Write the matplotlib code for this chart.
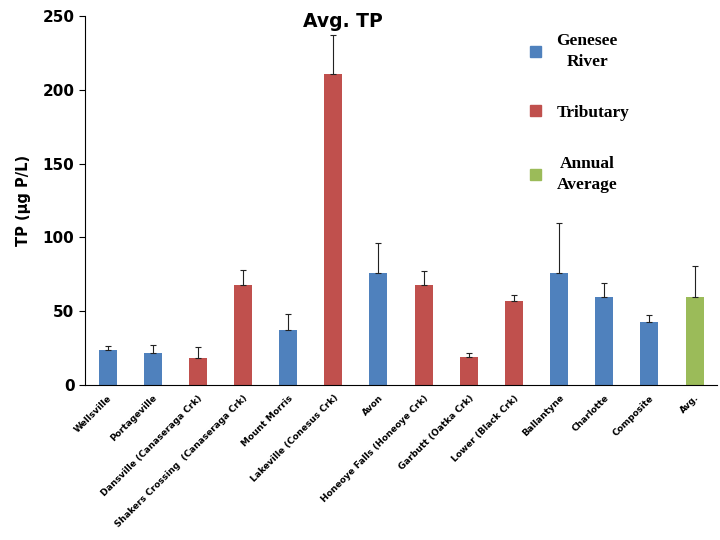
import matplotlib
matplotlib.use('Agg')
import matplotlib.pyplot as plt
import matplotlib.patches as mpatches

sites = ['Wellsville', 'Portageville', 'Dansville (Canaseraga Crk)',
         'Shakers Crossing  (Canaseraga Crk)', 'Mount Morris',
         'Lakeville (Conesus Crk)', 'Avon', 'Honeoye Falls (Honeoye Crk)',
         'Garbutt (Oatka Crk)', 'Lower (Black Crk)', 'Ballantyne',
         'Charlotte', 'Composite', 'Avg.']
tp_mean = [24, 22, 18, 68, 37, 211, 76, 68, 19, 57, 76, 60, 43, 60]
tp_err = [2.5, 5, 8, 10, 11, 26, 20, 9, 3, 4, 34, 9, 4.5, 21]
site_type = ['river', 'river', 'trib', 'trib', 'river', 'trib', 'river',
             'trib', 'trib', 'trib', 'river', 'river', 'river', 'avg']

COLORS = {'river': '#4F81BD', 'trib': '#C0504D', 'avg': '#9BBB59'}
LABELS = {'river': 'Genesee\nRiver', 'trib': 'Tributary',
          'avg': 'Annual\nAverage'}

fig = plt.figure(figsize=(7.2, 5.4), dpi=100)
ax = fig.add_axes([0.118, 0.287, 0.878, 0.683])

x = range(len(sites))
ax.bar(x, tp_mean, width=0.4, color=[COLORS[t] for t in site_type],
       yerr=[[0] * len(tp_err), tp_err], capsize=2.5,
       error_kw={'elinewidth': 0.8, 'capthick': 0.8, 'ecolor': '#222222'})

ax.set_xlim(-0.5, len(sites) - 0.5)
ax.set_ylim(0, 250)
ax.set_yticks([0, 50, 100, 150, 200, 250])
for lab in ax.get_yticklabels():
    lab.set_fontweight('bold')
    lab.set_fontsize(11)
ax.set_xticks(list(x))
ax.set_xticklabels(sites, rotation=45, ha='right', rotation_mode='anchor',
                   fontsize=6.5, fontweight='bold')
ax.tick_params(axis='x', length=0, pad=6)
ax.tick_params(axis='y', length=4, direction='out')
ax.spines['top'].set_visible(False)
ax.spines['right'].set_visible(False)
ax.set_ylabel('TP (µg P/L)', fontsize=10.5, fontweight='bold', labelpad=8)

ax.text(0.408, 1.012, 'Avg. TP', transform=ax.transAxes, ha='center',
        va='top', fontsize=13.5, fontweight='bold')

patches = [mpatches.Patch(color=COLORS[k], label=LABELS[k])
           for k in ['river', 'trib', 'avg']]
leg = ax.legend(handles=patches, loc='upper left',
                bbox_to_anchor=(0.68, 0.997), frameon=False, labelspacing=2.0,
                handlelength=0.6, handleheight=0.6, handletextpad=0.9,
                prop={'family': 'Liberation Serif', 'weight': 'bold',
                      'size': 12.5})
for t in leg.get_texts():
    t.set_multialignment('center')
    t.set_linespacing(1.45)

fig.savefig('out.png', dpi=100)
